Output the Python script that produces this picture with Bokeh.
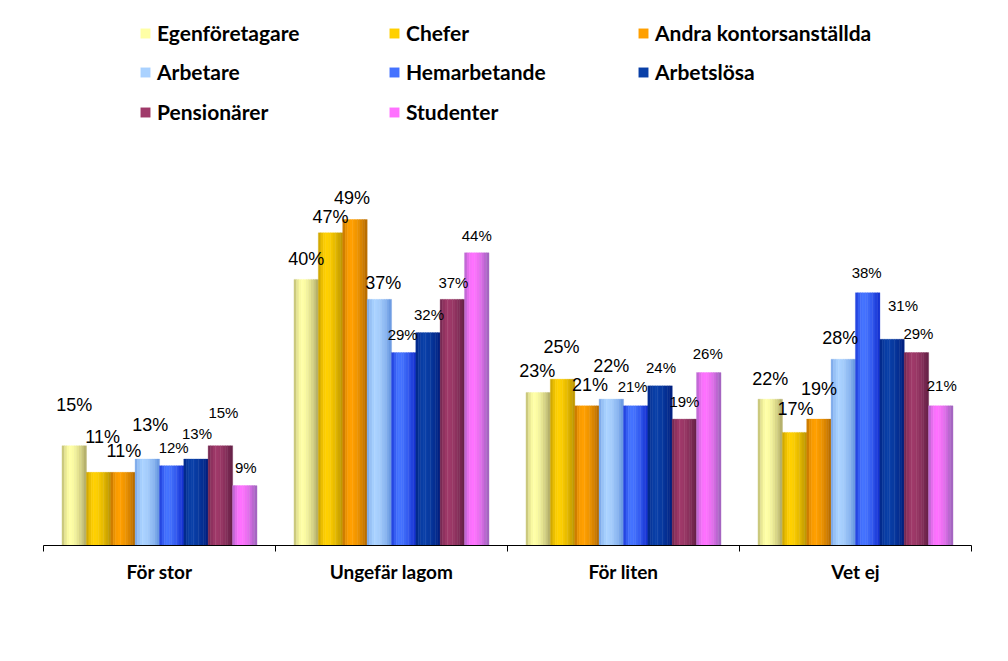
from bokeh.plotting import figure
from bokeh.models import ColumnDataSource, Range1d, FixedTicker, Legend, LegendItem
from bokeh.embed import file_html
from bokeh.resources import INLINE
from bokeh.core.properties import value

# ---------------- data ----------------
categories = ["För stor", "Ungefär lagom", "För liten", "Vet ej"]
series = ["Egenföretagare", "Chefer", "Andra kontorsanställda", "Arbetare",
          "Hemarbetande", "Arbetslösa", "Pensionärer", "Studenter"]
egenforetagare = [15, 40, 23, 22]
chefer = [11, 47, 25, 17]
andra_kontor = [11, 49, 21, 19]
arbetare = [13, 37, 22, 28]
hemarbetande = [12, 29, 21, 38]
arbetslosa = [13, 32, 24, 31]
pensionarer = [15, 37, 19, 29]
studenter = [9, 44, 26, 21]
values = [egenforetagare, chefer, andra_kontor, arbetare,
          hemarbetande, arbetslosa, pensionarer, studenter]

# ---------------- style ----------------
light = ["#FFFFA6", "#FFD000", "#FFA000", "#AAD2FF", "#4573FF", "#0A40A8", "#A03A6A", "#FF72FF"]
dark = ["#A39E5E", "#B08A00", "#A86200", "#5E8EDC", "#0A22C8", "#001A78", "#5A1C40", "#8E62B2"]
label_size = ["18px"] * 4 + ["15px"] * 4
# manually dragged data labels (pixels above bar top, x nudge)
label_raise = [[41, 35, 21, 34, 18, 26, 33, 18],
               [20, 16, 22, 16, 18, 18, 17, 17],
               [21, 32, 21, 33, 19, 18, 18, 19],
               [20, 23, 30, 21, 20, 34, 19, 20]]
label_dx = [[0, 4, 1, 3, 2, 1, 3, 1],
            [0, 0, -3, 4, -1, 1, 1, 0],
            [-1, -1, 3, 0, -3, 1, 0, -1],
            [0, 1, 0, -3, -1, 11, 2, 1]]

NS = 10          # strips per bar to fake the cylinder shading
BW = 0.105       # bar width in category units


def hx(c):
    return tuple(int(c[i:i + 2], 16) for i in (1, 3, 5))


def mix(a, b, t):
    a, b = hx(a), hx(b)
    return "#%02x%02x%02x" % tuple(int(round(a[i] + (b[i] - a[i]) * t)) for i in range(3))


def profile(t):
    pk = 0.35
    if t < pk:
        return 1 - 0.75 * ((pk - t) / pk) ** 2
    return 1 - 0.9 * ((t - pk) / (1 - pk)) ** 1.6


xs, tops, cols = [], [], []
legend_idx = []
for j, vals in enumerate(values):
    for c, v in enumerate(vals):
        left = c + 0.5 + (j - 4) * BW
        for k in range(NS):
            t = (k + 0.5) / NS
            if c == 0 and k == 3:
                legend_idx.append(len(xs))
            xs.append(left + t * BW)
            tops.append(v)
            cols.append(mix(dark[j], light[j], profile(t)))
bar_src = ColumnDataSource(dict(x=xs, top=tops, color=cols))

lx, ly, lt, lfs, ldy, ldx = [], [], [], [], [], []
for j, vals in enumerate(values):
    for c, v in enumerate(vals):
        lx.append(c + 0.5 + (j - 3.5) * BW)
        ly.append(v)
        lt.append(f"{v}%")
        lfs.append(label_size[j])
        ldy.append(-label_raise[c][j])
        ldx.append(label_dx[c][j])
lab_src = ColumnDataSource(dict(x=lx, y=ly, text=lt, fs=lfs, dy=ldy, dx=ldx))

# ---------------- figure ----------------
PX_PER_PCT = 6.653
FH = 537
p = figure(frame_width=928, frame_height=FH,
           x_range=Range1d(0, len(categories)),
           y_range=Range1d(0, FH / PX_PER_PCT),
           min_border_left=43, min_border_right=29,
           min_border_top=8, min_border_bottom=100,
           y_axis_location=None, toolbar_location=None,
           output_backend="svg", background_fill_color="white",
           border_fill_color="white")
p.outline_line_color = None
p.grid.visible = False

bars = p.vbar(x="x", top="top", bottom=0, width=BW / NS * 1.08, source=bar_src,
              fill_color="color", line_color="color", line_width=0.3)

p.text(x="x", y="y", text="text", source=lab_src, text_font=value("Liberation Sans"),
       text_font_size="fs", text_align="center", text_baseline="middle",
       y_offset="dy", x_offset="dx", text_color="black")

ax = p.xaxis[0]
ax.ticker = FixedTicker(ticks=[i + 0.5 for i in range(len(categories))],
                        minor_ticks=list(range(len(categories) + 1)))
ax.major_label_overrides = {i + 0.5: cname for i, cname in enumerate(categories)}
ax.major_tick_out = 0
ax.major_tick_in = 0
ax.minor_tick_out = 6
ax.minor_tick_in = 0
ax.axis_line_color = "black"
ax.minor_tick_line_color = "black"
ax.major_label_text_font = "Lato"
ax.major_label_text_font_style = "bold"
ax.major_label_text_font_size = "19px"
ax.major_label_text_color = "black"
ax.major_label_standoff = 8

rows = [[0, 1, 2], [3, 4, 5], [6, 7]]
row_bottom = [500, 461, 421]
for r, members in enumerate(rows):
    items = [LegendItem(label=series[j], renderers=[bars], index=legend_idx[j]) for j in members]
    lg = Legend(items=items, orientation="horizontal", location=(96, row_bottom[r]),
                glyph_width=12, glyph_height=12, label_standoff=6, spacing=31,
                label_width=200, label_height=20, padding=0, margin=0,
                border_line_color=None, background_fill_alpha=0,
                label_text_font="Lato", label_text_font_style="bold",
                label_text_font_size="21px", label_text_color="black",
                label_text_baseline="middle")
    p.add_layout(lg, "center")

open("out.html", "w").write(file_html(p, INLINE))
